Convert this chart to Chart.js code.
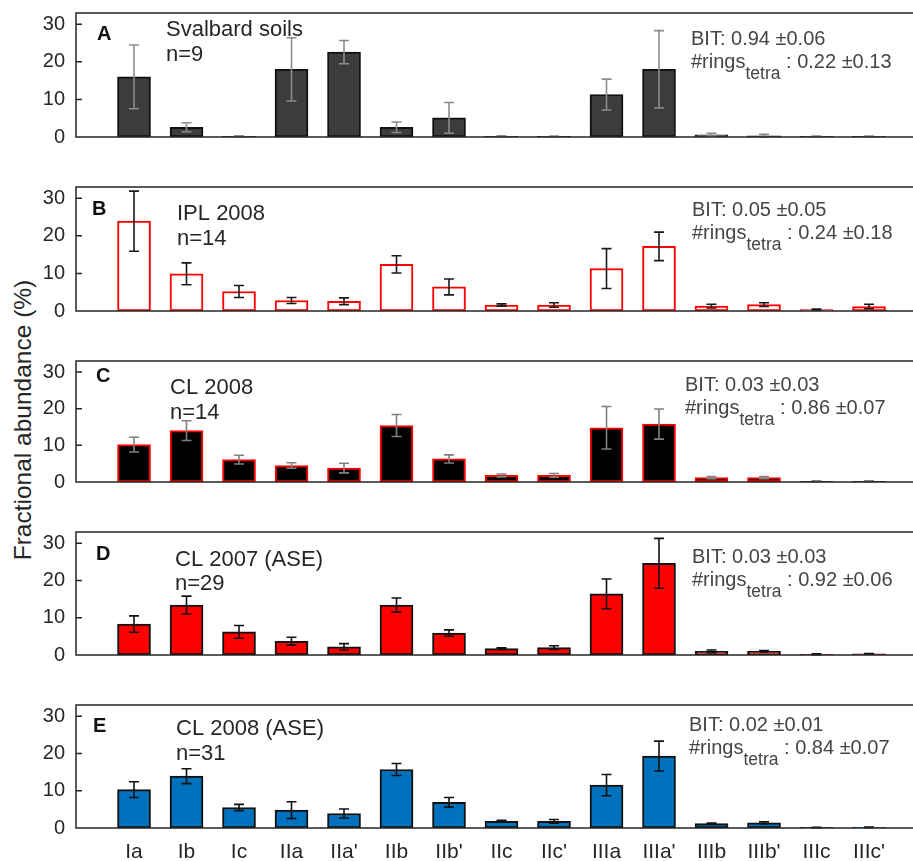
<!doctype html>
<html lang="en">
<head>
  <meta charset="utf-8">
  <title>Fractional abundance of brGDGTs</title>
  <style>
    * {
      margin: 0;
      padding: 0;
    }
    body {
      background: white;
      font-family: "Liberation Sans", Arial, sans-serif;
    }
    .figure {
      position: relative;
      width: 913px;
      height: 861px;
      overflow: hidden;
    }
    .figure canvas {
      position: absolute;
      left: 0;
    }
    .yTitle {
      position: absolute;
      left: 23px;
      top: 420px;
      transform: translate(-50%, -50%) rotate(-90deg);
      white-space: nowrap;
      font-size: 24.5px;
      color: #262626;
    }
  </style>
</head>
<body>
<div class="figure" id="figure">
  <div class="yTitle">Fractional abundance (%)</div>
</div>

<script src="https://cdn.jsdelivr.net/npm/chart.js"></script>
<script>
  // categories on the x-axis (only labelled in the last panel)
  const categories = ['Ia', 'Ib', 'Ic', 'IIa', "IIa'", 'IIb', "IIb'", 'IIc', "IIc'", 'IIIa', "IIIa'", 'IIIb', "IIIb'", 'IIIc', "IIIc'"];
  const yTicks = [0, 10, 20, 30];

  // panel texts
  const panelLetters = ['A', 'B', 'C', 'D', 'E'];
  const sampleSets = ['Svalbard soils', 'IPL 2008', 'CL 2008', 'CL 2007 (ASE)', 'CL 2008 (ASE)'];
  const sampleCounts = [9, 14, 14, 29, 31];
  const bitValues = ['0.94 ±0.06', '0.05 ±0.05', '0.03 ±0.03', '0.03 ±0.03', '0.02 ±0.01'];
  const ringsValues = ['0.22 ±0.13', '0.24 ±0.18', '0.86 ±0.07', '0.92 ±0.06', '0.84 ±0.07'];

  // mean fractional abundance (%) and error per panel
  const meanA = [16.0, 2.6, 0.2, 18.0, 22.6, 2.6, 5.1, 0.2, 0.15, 11.3, 18.0, 0.6, 0.3, 0.15, 0.15];
  const errA  = [8.5, 1.2, 0.1, 8.4, 3.1, 1.4, 4.1, 0.1, 0.1, 4.1, 10.3, 0.4, 0.4, 0.1, 0.1];
  const meanB = [23.9, 9.9, 5.2, 2.8, 2.6, 12.4, 6.4, 1.6, 1.6, 11.3, 17.2, 1.3, 1.7, 0.4, 1.2];
  const errB  = [8.0, 2.9, 1.6, 0.8, 0.9, 2.3, 2.1, 0.3, 0.6, 5.3, 3.8, 0.5, 0.5, 0.1, 0.6];
  const meanC = [10.2, 14.0, 6.1, 4.5, 3.8, 15.4, 6.3, 1.8, 1.8, 14.8, 15.8, 1.2, 1.2, 0.2, 0.2];
  const errC  = [2.0, 2.7, 1.2, 0.75, 1.3, 3.0, 1.1, 0.4, 0.5, 5.8, 4.1, 0.3, 0.3, 0.1, 0.1];
  const meanD = [8.3, 13.4, 6.2, 3.7, 2.2, 13.4, 5.9, 1.7, 2.0, 16.4, 24.6, 1.0, 1.0, 0.2, 0.3];
  const errD  = [2.2, 2.4, 1.7, 1.05, 0.85, 1.9, 0.85, 0.2, 0.5, 4.0, 6.7, 0.35, 0.2, 0.1, 0.1];
  const meanE = [10.3, 13.9, 5.5, 4.8, 3.9, 15.7, 6.9, 1.8, 1.8, 11.5, 19.3, 1.2, 1.4, 0.15, 0.2];
  const errE  = [2.1, 2.0, 0.85, 2.25, 1.2, 1.6, 1.3, 0.25, 0.5, 2.85, 4.0, 0.15, 0.25, 0.05, 0.05];

  const means = [meanA, meanB, meanC, meanD, meanE];
  const errs = [errA, errB, errC, errD, errE];

  // layout + look of each panel (pixel positions of box top / zero line, text offsets)
  const panelStyle = [
    {top: 13, zero: 137, letter: [97, 27], name: [166, 23, 48], bit: [691, 32, 55], fill: '#3c3c3c', edge: '#111', whisker: '#8c8c8c'},
    {top: 187, zero: 311, letter: [92, 28], name: [177, 33, 58], bit: [692, 29, 52], fill: '#ffffff', edge: '#ff0000', whisker: '#1a1a1a'},
    {top: 361, zero: 482, letter: [96, 21], name: [170, 33, 58], bit: [685, 30, 53], fill: '#000000', edge: '#ff0000', whisker: '#808080'},
    {top: 532, zero: 655, letter: [96, 28], name: [175, 34, 58], bit: [692, 31, 54], fill: '#ff0000', edge: '#111', whisker: '#111'},
    {top: 705, zero: 828, letter: [93, 27], name: [176, 30, 55], bit: [689, 26, 49], fill: '#0072bd', edge: '#111', whisker: '#111'}
  ];

  const FONT = '"Liberation Sans", Arial, sans-serif';
  const AXIS = '#262626';

  // error bars drawn through the y scale, then the axes box on top
  const errorBarPlugin = {
    id: 'errorBars',
    afterDatasetsDraw(chart, args, opts) {
      const ctx = chart.ctx;
      const y = chart.scales.y;
      const meta = chart.getDatasetMeta(0);
      ctx.save();
      ctx.strokeStyle = opts.color;
      ctx.lineWidth = 1.6;
      ctx.beginPath();
      meta.data.forEach((bar, i) => {
        const v = opts.means[i];
        const e = opts.errors[i];
        const yHi = y.getPixelForValue(v + e);
        const yLo = y.getPixelForValue(Math.max(v - e, 0));
        ctx.moveTo(bar.x, yHi); ctx.lineTo(bar.x, yLo);
        ctx.moveTo(bar.x - 5, yHi); ctx.lineTo(bar.x + 5, yHi);
        ctx.moveTo(bar.x - 5, yLo); ctx.lineTo(bar.x + 5, yLo);
      });
      ctx.stroke();

      // box: left, bottom and top lines + inward ticks
      const a = chart.chartArea;
      ctx.strokeStyle = AXIS;
      ctx.lineWidth = 1.5;
      ctx.beginPath();
      ctx.moveTo(a.right, a.top);
      ctx.lineTo(a.left, a.top);
      ctx.lineTo(a.left, a.bottom);
      ctx.lineTo(a.right, a.bottom);
      yTicks.forEach(t => {
        const py = y.getPixelForValue(t);
        ctx.moveTo(a.left, py);
        ctx.lineTo(a.left + 6, py);
      });
      ctx.stroke();
      ctx.restore();
    }
  };

  // panel letter, sample set, n, BIT and #rings texts
  const labelPlugin = {
    id: 'panelText',
    afterDraw(chart, args, opts) {
      const ctx = chart.ctx;
      const top = chart.chartArea.top;
      const s = opts.style;
      ctx.save();
      ctx.textBaseline = 'alphabetic';
      ctx.textAlign = 'left';

      ctx.fillStyle = '#111';
      ctx.font = 'bold 20px ' + FONT;
      ctx.fillText(opts.letter, s.letter[0], top + s.letter[1]);

      ctx.fillStyle = '#262626';
      ctx.font = '22px ' + FONT;
      ctx.fillText(opts.name, s.name[0], top + s.name[1]);
      ctx.fillText('n=' + opts.count, s.name[0], top + s.name[2]);

      ctx.fillStyle = '#454545';
      ctx.font = '20px ' + FONT;
      ctx.fillText('BIT: ' + opts.bit, s.bit[0], top + s.bit[1]);
      let x = s.bit[0];
      const yb = top + s.bit[2];
      ctx.fillText('#rings', x, yb);
      x += ctx.measureText('#rings').width;
      ctx.font = '17.5px ' + FONT;
      ctx.fillText('tetra', x, yb + 11);
      x += ctx.measureText('tetra').width;
      ctx.font = '20px ' + FONT;
      ctx.fillText(' : ' + opts.rings, x, yb);
      ctx.restore();
    }
  };

  const figure = document.getElementById('figure');
  const padTop = 12;

  panelStyle.forEach((st, p) => {
    const isLast = p === panelStyle.length - 1;
    const bottomSpace = isLast ? 33 : 14;
    const canvas = document.createElement('canvas');
    canvas.width = 913;
    canvas.height = padTop + (st.zero - st.top) + bottomSpace;
    canvas.style.top = (st.top - padTop) + 'px';
    figure.appendChild(canvas);

    new Chart(canvas, {
      type: 'bar',
      data: {
        datasets: [{
          data: means[p].map((v, i) => ({x: i + 1, y: v})),
          backgroundColor: st.fill,
          borderColor: st.edge,
          borderWidth: 2,
          borderSkipped: false,
          barThickness: 33
        }]
      },
      options: {
        responsive: false,
        animation: false,
        devicePixelRatio: 1,
        layout: {padding: {top: padTop, right: 0, left: 0, bottom: 0}},
        plugins: {
          legend: {display: false},
          tooltip: {enabled: false},
          errorBars: {means: means[p], errors: errs[p], color: st.whisker},
          panelText: {
            style: st,
            letter: panelLetters[p],
            name: sampleSets[p],
            count: sampleCounts[p],
            bit: bitValues[p],
            rings: ringsValues[p]
          }
        },
        scales: {
          x: {
            type: 'linear',
            offset: false,
            min: -0.105,
            max: 15.838,
            display: isLast,
            grid: {display: false, drawTicks: false},
            border: {display: false},
            afterBuildTicks: scale => {
              scale.ticks = categories.map((c, i) => ({value: i + 1}));
            },
            afterFit: scale => {
              scale.height = bottomSpace;
              scale.paddingLeft = 0;
              scale.paddingRight = 0;
            },
            ticks: {
              autoSkip: false,
              maxRotation: 0,
              padding: 12,
              color: AXIS,
              font: {family: FONT, size: 21},
              callback: value => categories[Math.round(value) - 1] || ''
            }
          },
          y: {
            min: 0,
            max: 33,
            grid: {display: false, drawTicks: false},
            border: {display: false},
            afterBuildTicks: scale => {
              scale.ticks = yTicks.map(v => ({value: v}));
            },
            afterFit: scale => {
              scale.width = 76;
              scale.paddingTop = 0;
              scale.paddingBottom = 0;
            },
            ticks: {
              padding: 11,
              color: AXIS,
              font: {family: FONT, size: 20}
            }
          }
        }
      },
      plugins: [errorBarPlugin, labelPlugin]
    });
  });
</script>
</body>
</html>
